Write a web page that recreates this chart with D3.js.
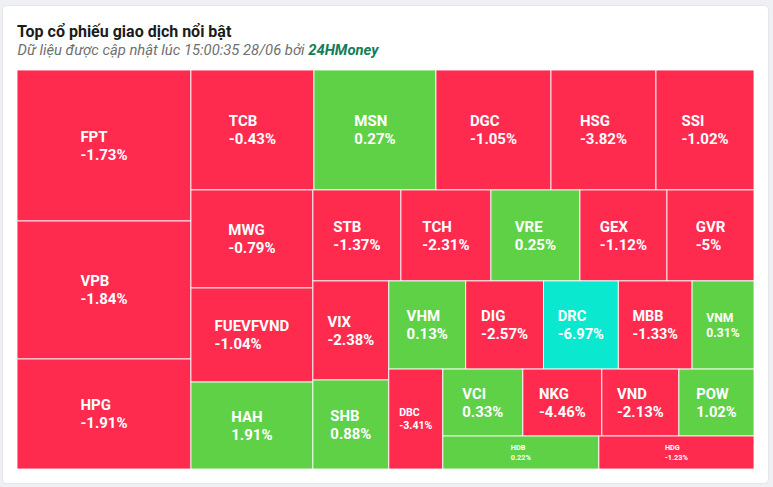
<!DOCTYPE html>
<html>
<head>
<meta charset="utf-8">
<script src="https://cdn.jsdelivr.net/npm/d3@7"></script>
<style>
  html, body { margin: 0; padding: 0; background: #eef0f3; }
  svg { display: block; font-family: Roboto, "Noto Sans", sans-serif; }
</style>
</head>
<body>
<svg id="chart" width="773" height="487"></svg>
<script>
// ---- data ----
const tickers = ["FPT","VPB","HPG","TCB","MSN","DGC","HSG","SSI","MWG","FUEVFVND","HAH",
  "STB","TCH","VRE","GEX","GVR","VIX","SHB","VHM","DIG","DRC","MBB","VNM","DBC",
  "VCI","NKG","VND","POW","HDB","HDG"];
// estimated trading value (relative size of each tile)
const tradeValues = [262.7,240.1,191.4,147.6,146.4,138.0,126.0,117.6,119.6,114.7,106.1,
  80.1,81.9,81.0,79.2,79.2,75.2,67.6,67.8,68.6,66.0,65.0,54.6,54.0,
  53.6,52.9,51.6,50.3,51.5,51.2];
// price change, %
const changes = [-1.73,-1.84,-1.91,-0.43,0.27,-1.05,-3.82,-1.02,-0.79,-1.04,1.91,
  -1.37,-2.31,0.25,-1.12,-5,-2.38,0.88,0.13,-2.57,-6.97,-1.33,0.31,-3.41,
  0.33,-4.46,-2.13,1.02,0.22,-1.23];
const titleText = "Top cổ phiếu giao dịch nổi bật";
const subtitleText = "Dữ liệu được cập nhật lúc 15:00:35 28/06 bởi ";
const brandText = "24HMoney";

// ---- layout ----
const W = 773, H = 487;
const box = {x: 17, y: 70, w: 737, h: 399};
const colors = {up: "#5fd147", down: "#fe2b4f", floor: "#0ae8cf"};
function colorOf(c) {
  if (c <= -6.9) return colors.floor;
  return c > 0 ? colors.up : colors.down;
}

const svg = d3.select("#chart");
svg.append("rect").attr("width", W).attr("height", H).attr("fill", "#eef0f3");
svg.append("rect").attr("x", 2.5).attr("y", 5.5).attr("width", 766).attr("height", 478)
  .attr("rx", 4).attr("fill", "#fff").attr("stroke", "#e3e6ea");

svg.append("text").attr("x", 17).attr("y", 37)
  .attr("font-size", 16).attr("font-weight", 700).attr("fill", "#1b1b1b")
  .text(titleText);
const sub = svg.append("text").attr("x", 17.5).attr("y", 55)
  .attr("font-size", 14.8).attr("font-style", "italic").attr("fill", "#6f6f6f");
sub.append("tspan").text(subtitleText);
sub.append("tspan").attr("font-weight", 700).attr("fill", "#137d58").text(brandText);

// alternating-direction squarified tiling (vertical strip first)
function altSquarify(parent, x0, y0, x1, y1) {
  const nodes = parent.children;
  let value = parent.value;
  let vertical = true;
  let i = 0;
  while (i < nodes.length) {
    const dx = x1 - x0, dy = y1 - y0, area = dx * dy;
    const ratio = (s, v) => {
      const thick = vertical ? (area * s / value) / dy : (area * s / value) / dx;
      const len = (area * v / value) / thick;
      return Math.max(thick / len, len / thick);
    };
    let sum = nodes[i].value, j = i + 1;
    while (j < nodes.length) {
      const lv = nodes[j - 1].value;
      if (ratio(sum + nodes[j].value, lv) > ratio(sum, lv)) break;
      sum += nodes[j].value; j++;
    }
    const row = {value: sum, children: nodes.slice(i, j)};
    if (vertical) {
      const nx = j >= nodes.length ? x1 : x0 + dx * sum / value;
      d3.treemapSlice(row, x0, y0, nx, y1); x0 = nx;
    } else {
      const ny = j >= nodes.length ? y1 : y0 + dy * sum / value;
      d3.treemapDice(row, x0, y0, x1, ny); y0 = ny;
    }
    value -= sum; i = j; vertical = !vertical;
  }
}

const rootData = {children: tickers.map((t, k) => ({name: t, value: tradeValues[k], change: changes[k]}))};
const root = d3.hierarchy(rootData).sum(d => d.value || 0);
d3.treemap().tile(altSquarify).size([box.w, box.h])(root);

const g = svg.append("g").attr("transform", `translate(${box.x},${box.y})`);
const cells = g.selectAll("g.cell").data(root.leaves()).join("g").attr("class", "cell");
cells.append("rect")
  .attr("x", d => d.x0).attr("y", d => d.y0)
  .attr("width", d => d.x1 - d.x0).attr("height", d => d.y1 - d.y0)
  .attr("fill", d => colorOf(d.data.change))
  .attr("stroke", "#fff").attr("stroke-opacity", 0.85).attr("stroke-width", 1);

cells.each(function(d) {
  const cell = d3.select(this);
  const lines = [d.data.name, d.data.change + "%"];
  const w = d.x1 - d.x0, h = d.y1 - d.y0;
  const t = cell.append("text").attr("fill", "#fff").attr("font-weight", 700).attr("font-size", 15);
  const spans = lines.map(s => t.append("tspan").text(s));
  const maxW = d3.max(spans, s => s.node().getComputedTextLength());
  let fs = Math.min(15, w / 5.1, h / 4.5);
  // never wider than the tile
  fs = Math.min(fs, 15 * (w - 6) / maxW);
  t.attr("font-size", fs);
  const lh = Math.max(fs * 1.22, fs + 2.7);
  const tw = maxW * fs / 15;
  const cx = d.x0 + w / 2, cy = d.y0 + h / 2;
  const x = cx - tw / 2;
  spans.forEach((s, k) => {
    s.attr("x", x).attr("y", cy - lh / 2 + k * lh).attr("dy", "0.35em");
  });
});
</script>
</body>
</html>
